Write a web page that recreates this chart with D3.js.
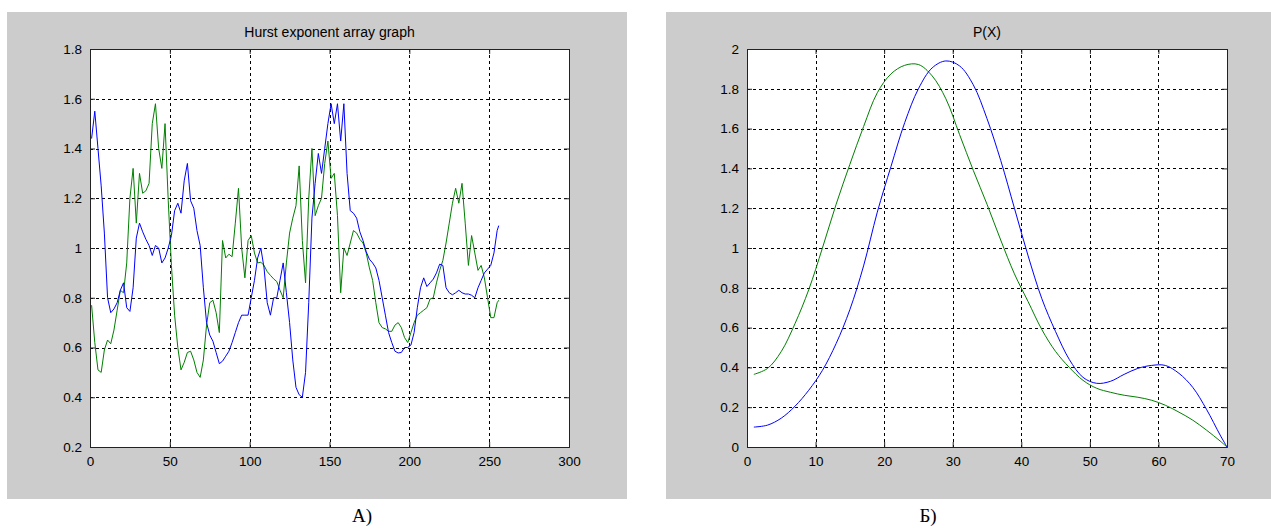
<!DOCTYPE html>
<meta charset="utf-8">
<style>
body { margin: 0; background: #fff; }
text { font-family: "Liberation Sans", Arial, sans-serif; }
</style>
<svg width="1271" height="529"></svg>
<script src="https://d3js.org/d3.v7.min.js"></script>
<script>

var blue_colour = "#0000ff";
var green_colour = "#008000";
var panel_colour = "#cccccc";

// A) Hurst exponent array, sampled every 2nd point
var hurstX = [1,3,5,7,9,11,13,15,17,19, 21,23,25,27,29,31,33,35,37,39,
  41,43,45,47,49,51,53,55,57,59, 61,63,65,67,69,71,73,75,77,79,
  81,83,85,87,89,91,93,95,97,99, 101,103,105,107,109,111,113,115,117,119,
  121,123,125,127,129,131,133,135,137,139, 141,143,145,147,149,151,153,155,157,159,
  161,163,165,167,169,171,173,175,177,179, 181,183,185,187,189,191,193,195,197,199,
  201,203,205,207,209,211,213,215,217,219, 221,223,225,227,229,231,233,235,237,239,
  241,243,245,247,249,251,253,255,256];

var hurstBlue = [1.44,1.55,1.40,1.25,1.06,0.80,0.74,0.755,0.78,0.83,
  0.86,0.76,0.745,0.84,1.04,1.10,1.065,1.035,1.01,0.97,
  1.01,1.00,0.94,0.96,1.00,1.05,1.15,1.18,1.14,1.27,
  1.34,1.19,1.16,1.07,1.01,0.84,0.70,0.65,0.625,0.58,
  0.535,0.545,0.565,0.585,0.62,0.66,0.70,0.73,0.73,0.73,
  0.80,0.87,0.96,1.00,0.92,0.78,0.73,0.80,0.80,0.87,
  0.94,0.82,0.70,0.55,0.44,0.41,0.40,0.50,0.78,1.12,
  1.26,1.38,1.30,1.40,1.50,1.58,1.50,1.58,1.43,1.58,
  1.30,1.15,1.14,1.12,1.065,1.03,0.985,0.955,0.94,0.92,
  0.87,0.80,0.73,0.66,0.62,0.585,0.578,0.58,0.60,0.60,
  0.61,0.66,0.76,0.84,0.88,0.845,0.86,0.875,0.90,0.935,
  0.93,0.84,0.82,0.812,0.82,0.83,0.82,0.815,0.815,0.81,
  0.80,0.84,0.87,0.90,0.915,0.93,0.98,1.07,1.09];

var hurstGreen = [0.77,0.62,0.51,0.50,0.59,0.63,0.615,0.67,0.75,0.83,
  0.82,0.94,1.20,1.32,1.10,1.30,1.22,1.23,1.26,1.50,
  1.58,1.40,1.32,1.50,1.19,0.93,0.73,0.60,0.51,0.54,
  0.58,0.585,0.55,0.50,0.48,0.55,0.69,0.78,0.79,0.74,
  0.66,1.03,0.96,0.975,0.965,1.10,1.24,1.00,0.88,1.03,
  1.05,0.98,0.94,0.943,0.93,0.905,0.89,0.876,0.865,0.83,
  0.80,0.94,1.06,1.12,1.17,1.33,1.03,0.86,1.20,1.40,
  1.13,1.17,1.20,1.34,1.43,1.28,1.30,1.13,0.82,1.00,
  0.97,1.02,1.07,1.06,1.035,1.02,0.98,0.92,0.87,0.78,
  0.70,0.68,0.675,0.665,0.665,0.69,0.70,0.68,0.64,0.62,
  0.66,0.70,0.73,0.74,0.75,0.76,0.795,0.80,0.86,0.91,
  0.95,1.02,1.10,1.18,1.24,1.18,1.26,1.10,0.93,1.05,
  0.98,0.91,0.93,0.88,0.80,0.72,0.72,0.78,0.79];

var hurstXTicks = [0, 50, 100, 150, 200, 250, 300];
var hurstYTicks = [0.2, 0.4, 0.6, 0.8, 1, 1.2, 1.4, 1.6, 1.8];

// Б) P(X)
var pX = [1,3,5,7,9,11,13,15,17,19,21,23,25,27,29,31,33,35,
  37,39,41,43,45,47,49,51,53,55,57,59,61,63,65,67,69,70];

var pBlue = [0.10,0.11,0.145,0.205,0.285,0.385,0.52,0.69,0.91,1.18,1.41,1.63,1.80,1.905,1.94,1.915,1.82,1.65,
  1.44,1.20,0.96,0.745,0.58,0.44,0.35,0.32,0.33,0.365,0.395,0.41,0.41,0.37,0.30,0.19,0.06,0.0];

var pGreen = [0.365,0.395,0.48,0.62,0.79,1.00,1.22,1.42,1.61,1.78,1.875,1.918,1.922,1.865,1.75,1.57,1.39,1.22,
  1.04,0.87,0.73,0.59,0.48,0.40,0.335,0.295,0.275,0.26,0.25,0.235,0.21,0.175,0.135,0.085,0.03,0.0];

var pXTicks = [0, 10, 20, 30, 40, 50, 60, 70];
var pYTicks = [0, 0.2, 0.4, 0.6, 0.8, 1, 1.2, 1.4, 1.6, 1.8, 2];

var svg = d3.select("svg");

// MATLAB style tick text: 1 instead of 1.0
function tickText(d) {
  return String(+d.toFixed(2));
}

// draws one figure window with grid, two lines and a title
function drawPanel(p) {
  svg.append("rect")
     .attr("x", p.bgX).attr("y", p.bgY)
     .attr("width", p.bgW).attr("height", p.bgH)
     .style("fill", panel_colour);

  var x = d3.scaleLinear().domain(p.xDomain).range([p.left, p.right]);
  var y = d3.scaleLinear().domain(p.yDomain).range([p.bottom, p.top]);

  var g = svg.append("g");

  g.append("rect")
   .attr("x", p.left).attr("y", p.top)
   .attr("width", p.right - p.left).attr("height", p.bottom - p.top)
   .style("fill", "white");

  // dotted grid
  g.selectAll(".vgrid").data(p.xTicks.slice(1, -1)).enter().append("line")
   .attr("x1", function(d) { return Math.round(x(d)) + 0.5; })
   .attr("x2", function(d) { return Math.round(x(d)) + 0.5; })
   .attr("y1", p.top).attr("y2", p.bottom)
   .style("stroke", "black").style("stroke-dasharray", "3,3");
  g.selectAll(".hgrid").data(p.yTicks.slice(1, -1)).enter().append("line")
   .attr("y1", function(d) { return Math.round(y(d)) + 0.5; })
   .attr("y2", function(d) { return Math.round(y(d)) + 0.5; })
   .attr("x1", p.left).attr("x2", p.right)
   .style("stroke", "black").style("stroke-dasharray", "3,3");

  var line = d3.line()
    .x(function(d) { return x(d[0]); })
    .y(function(d) { return y(d[1]); });
  if (p.curve) line.curve(p.curve);

  g.append("path")
   .datum(d3.zip(p.xs, p.green))
   .attr("d", line)
   .style("fill", "none").style("stroke", green_colour).style("stroke-width", 1);
  g.append("path")
   .datum(d3.zip(p.xs, p.blue))
   .attr("d", line)
   .style("fill", "none").style("stroke", blue_colour).style("stroke-width", 1);

  // axes on the four sides, ticks pointing inward
  var tl = 5;
  g.append("g").attr("transform", "translate(0," + p.bottom + ")")
   .call(d3.axisBottom(x).tickValues(p.xTicks).tickSize(-tl).tickPadding(9).tickFormat(tickText));
  g.append("g").attr("transform", "translate(0," + p.top + ")")
   .call(d3.axisTop(x).tickValues(p.xTicks).tickSize(-tl).tickFormat(""));
  g.append("g").attr("transform", "translate(" + p.left + ",0)")
   .call(d3.axisLeft(y).tickValues(p.yTicks).tickSize(-tl).tickPadding(8).tickFormat(tickText));
  g.append("g").attr("transform", "translate(" + p.right + ",0)")
   .call(d3.axisRight(y).tickValues(p.yTicks).tickSize(-tl).tickFormat(""));

  g.selectAll(".domain").style("stroke", "#222");
  g.selectAll(".tick line").style("stroke", "#222");
  g.selectAll(".tick text")
   .style("font-family", "'Liberation Sans', Arial, sans-serif")
   .style("font-size", "13.5px").style("fill", "black");

  svg.append("text")
     .attr("x", (p.left + p.right) / 2)
     .attr("y", p.top - 12)
     .attr("text-anchor", "middle")
     .style("font-size", "14px")
     .text(p.title);

  svg.append("text")
     .attr("x", p.captionX)
     .attr("y", 522)
     .attr("text-anchor", "middle")
     .style("font-family", "'Liberation Serif', 'Times New Roman', serif")
     .style("font-size", "19px")
     .text(p.caption);
}

drawPanel({
  bgX: 7, bgY: 12, bgW: 620, bgH: 487,
  left: 90, right: 569, top: 49, bottom: 447,
  xDomain: [0, 300], yDomain: [0.2, 1.8],
  xTicks: hurstXTicks, yTicks: hurstYTicks,
  xs: hurstX, blue: hurstBlue, green: hurstGreen,
  title: "Hurst exponent array graph",
  caption: "A)", captionX: 362
});

drawPanel({
  bgX: 666, bgY: 12, bgW: 605, bgH: 487,
  left: 747, right: 1227, top: 49, bottom: 447,
  xDomain: [0, 70], yDomain: [0, 2],
  xTicks: pXTicks, yTicks: pYTicks,
  xs: pX, blue: pBlue, green: pGreen,
  curve: d3.curveCatmullRom.alpha(0.5),
  title: "P(X)",
  caption: "Б)", captionX: 928
});

</script>
